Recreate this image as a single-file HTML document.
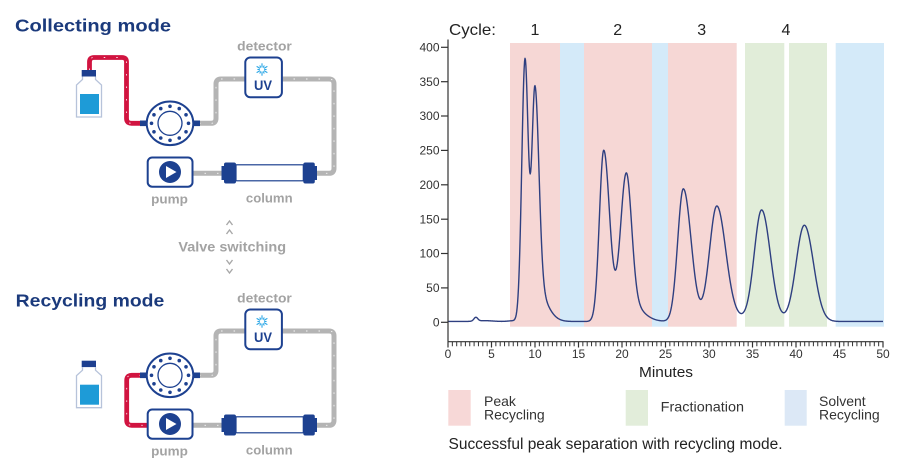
<!DOCTYPE html>
<html><head><meta charset="utf-8">
<style>
html,body{margin:0;padding:0;background:#fff;}
svg{display:block;}
text{font-family:"Liberation Sans",Arial,sans-serif;}
</style></head>
<body>
<svg width="905" height="470" viewBox="0 0 905 470" xmlns="http://www.w3.org/2000/svg">
<rect width="905" height="470" fill="#fff"/>

<!-- ================= LEFT: Collecting mode ================= -->
<text x="15" y="31.7" font-size="17.5" font-weight="bold" fill="#1b3a7c" textLength="156" lengthAdjust="spacingAndGlyphs">Collecting mode</text>

<!-- bottle top -->
<rect x="81.7" y="70" width="14.3" height="6.5" fill="#1d3f8f"/>
<path d="M82.5 76.5 V79.5 L76.5 85 V117 H101.5 V85 L95.5 79.5 V76.5" fill="#fff" stroke="#b7c3da" stroke-width="1.3"/>
<rect x="80" y="94" width="19" height="20" fill="#1e9bd7"/>
<!-- red tube top -->
<path d="M89.5 70 V62 Q89.5 57.5 94 57.5 H122 Q126.5 57.5 126.5 62 V118.3 Q126.5 123.3 131.5 123.3 H141" fill="none" stroke="#d11440" stroke-width="4.8"/>
<path d="M89.5 70 V62 Q89.5 57.5 94 57.5 H122 Q126.5 57.5 126.5 62 V118.3 Q126.5 123.3 131.5 123.3 H141" fill="none" stroke="#fff" stroke-width="0.9" stroke-dasharray="1.5 11" opacity="0.85"/>

<g id="topcommon">
 <g fill="none" stroke="#b4b4b4" stroke-width="5">
  <path d="M199 123.3 H211 Q216 123.3 216 118.3 V84 Q216 79 221 79 H246"/>
  <path d="M281 79 H329 Q334 79 334 84 V168.3 Q334 173.3 329 173.3 H316"/>
  <path d="M192 173.3 H222"/>
 </g>
 <g fill="none" stroke="#fff" stroke-width="0.9" stroke-dasharray="1.5 11" opacity="0.85">
  <path d="M199 123.3 H211 Q216 123.3 216 118.3 V84 Q216 79 221 79 H246"/>
  <path d="M281 79 H329 Q334 79 334 84 V168.3 Q334 173.3 329 173.3 H316"/>
  <path d="M192 173.3 H222"/>
 </g>
 <!-- detector -->
 <rect x="245.3" y="57.5" width="36.6" height="39.8" rx="5" fill="#fff" stroke="#1d4190" stroke-width="2"/>
 <g transform="translate(262 69.5)" stroke="#2ba7e6" stroke-width="1.1">
  <line x1="0" y1="-2.2" x2="0" y2="-6.2"/>
  <line x1="0" y1="-2.2" x2="0" y2="-4.6" transform="rotate(30)"/>
  <line x1="0" y1="-2.2" x2="0" y2="-6.2" transform="rotate(60)"/>
  <line x1="0" y1="-2.2" x2="0" y2="-4.6" transform="rotate(90)"/>
  <line x1="0" y1="-2.2" x2="0" y2="-6.2" transform="rotate(120)"/>
  <line x1="0" y1="-2.2" x2="0" y2="-4.6" transform="rotate(150)"/>
  <line x1="0" y1="-2.2" x2="0" y2="-6.2" transform="rotate(180)"/>
  <line x1="0" y1="-2.2" x2="0" y2="-4.6" transform="rotate(210)"/>
  <line x1="0" y1="-2.2" x2="0" y2="-6.2" transform="rotate(240)"/>
  <line x1="0" y1="-2.2" x2="0" y2="-4.6" transform="rotate(270)"/>
  <line x1="0" y1="-2.2" x2="0" y2="-6.2" transform="rotate(300)"/>
  <line x1="0" y1="-2.2" x2="0" y2="-4.6" transform="rotate(330)"/>
 </g>
 <text x="263" y="89.8" font-size="14" font-weight="bold" fill="#1d4190" text-anchor="middle" textLength="18" lengthAdjust="spacingAndGlyphs">UV</text>
 <text x="264.5" y="50.7" font-size="13" font-weight="bold" fill="#a3a3a3" text-anchor="middle" textLength="54.7" lengthAdjust="spacingAndGlyphs">detector</text>
 <!-- valve -->
 <rect x="140" y="120.5" width="7.5" height="5.6" fill="#1d4190"/>
 <rect x="192.5" y="120.5" width="7.5" height="5.6" fill="#1d4190"/>
 <ellipse cx="170" cy="123.3" rx="23.3" ry="21.8" fill="#fff" stroke="#1d4190" stroke-width="2"/>
 <circle cx="170" cy="123.3" r="12" fill="#fff" stroke="#1d4190" stroke-width="1.3"/>
 <g fill="#1d4190">
  <circle cx="170" cy="106.3" r="1.8"/><circle cx="179.25" cy="108.58" r="1.8"/>
  <circle cx="186.02" cy="114.8" r="1.8"/><circle cx="188.5" cy="123.3" r="1.8"/>
  <circle cx="186.02" cy="131.8" r="1.8"/><circle cx="179.25" cy="138.02" r="1.8"/>
  <circle cx="170" cy="140.3" r="1.8"/><circle cx="160.75" cy="138.02" r="1.8"/>
  <circle cx="153.98" cy="131.8" r="1.8"/><circle cx="151.5" cy="123.3" r="1.8"/>
  <circle cx="153.98" cy="114.8" r="1.8"/><circle cx="160.75" cy="108.58" r="1.8"/>
 </g>
 <!-- pump -->
 <rect x="147.7" y="157.5" width="44.8" height="29.2" rx="4.5" fill="#fff" stroke="#1d4190" stroke-width="2"/>
 <circle cx="170" cy="172" r="11" fill="#1d4190"/>
 <polygon points="166,166 166,178 176.5,172" fill="#fff"/>
 <text x="169.5" y="203.3" font-size="13" font-weight="bold" fill="#a3a3a3" text-anchor="middle" textLength="36.7" lengthAdjust="spacingAndGlyphs">pump</text>
 <!-- column -->
 <rect x="221.5" y="166" width="4" height="14" fill="#1d4190"/>
 <rect x="224" y="162.5" width="12" height="21" rx="2" fill="#1d4190"/>
 <rect x="236" y="164.8" width="67.3" height="16" fill="#fff" stroke="#1d4190" stroke-width="1.2"/>
 <rect x="303.3" y="162.5" width="11.5" height="21" rx="2" fill="#1d4190"/>
 <rect x="313.5" y="166" width="3.5" height="14" fill="#1d4190"/>
 <text x="269.3" y="202.7" font-size="13" font-weight="bold" fill="#a3a3a3" text-anchor="middle" textLength="46.7" lengthAdjust="spacingAndGlyphs">column</text>
</g>

<!-- Valve switching -->
<g fill="none" stroke="#a8a8a8" stroke-width="1.4">
 <polyline points="226.5,225 229.5,221 232.5,225"/>
 <polyline points="226.5,234 229.5,230 232.5,234"/>
 <polyline points="226.5,260 229.5,264 232.5,260"/>
 <polyline points="226.5,269 229.5,273 232.5,269"/>
</g>
<text x="232.2" y="251.7" font-size="14" font-weight="bold" fill="#a3a3a3" text-anchor="middle" textLength="107.7" lengthAdjust="spacingAndGlyphs">Valve switching</text>

<!-- ================= LEFT: Recycling mode ================= -->
<text x="15.7" y="306.7" font-size="17.5" font-weight="bold" fill="#1b3a7c" textLength="148.6" lengthAdjust="spacingAndGlyphs">Recycling mode</text>

<g transform="translate(0 290.7)">
 <rect x="81.7" y="70" width="14.3" height="6.5" fill="#1d3f8f"/>
 <path d="M82.5 76.5 V79.5 L76.5 85 V117 H101.5 V85 L95.5 79.5 V76.5" fill="#fff" stroke="#b7c3da" stroke-width="1.3"/>
 <rect x="80" y="94" width="19" height="20" fill="#1e9bd7"/>
</g>
<path d="M141 375.3 H131.7 Q126.7 375.3 126.7 380.3 V420.3 Q126.7 425.3 131.7 425.3 H148" fill="none" stroke="#d11440" stroke-width="4.8"/>
<path d="M141 375.3 H131.7 Q126.7 375.3 126.7 380.3 V420.3 Q126.7 425.3 131.7 425.3 H148" fill="none" stroke="#fff" stroke-width="0.9" stroke-dasharray="1.5 11" opacity="0.85"/>

<g transform="translate(0 252)">
 <g fill="none" stroke="#b4b4b4" stroke-width="5">
  <path d="M199 123.3 H211 Q216 123.3 216 118.3 V84 Q216 79 221 79 H246"/>
  <path d="M281 79 H329 Q334 79 334 84 V168.3 Q334 173.3 329 173.3 H316"/>
  <path d="M192 173.3 H222"/>
 </g>
 <g fill="none" stroke="#fff" stroke-width="0.9" stroke-dasharray="1.5 11" opacity="0.85">
  <path d="M199 123.3 H211 Q216 123.3 216 118.3 V84 Q216 79 221 79 H246"/>
  <path d="M281 79 H329 Q334 79 334 84 V168.3 Q334 173.3 329 173.3 H316"/>
  <path d="M192 173.3 H222"/>
 </g>
 <rect x="245.3" y="57.5" width="36.6" height="39.8" rx="5" fill="#fff" stroke="#1d4190" stroke-width="2"/>
 <g transform="translate(262 69.5)" stroke="#2ba7e6" stroke-width="1.1">
  <line x1="0" y1="-2.2" x2="0" y2="-6.2"/>
  <line x1="0" y1="-2.2" x2="0" y2="-4.6" transform="rotate(30)"/>
  <line x1="0" y1="-2.2" x2="0" y2="-6.2" transform="rotate(60)"/>
  <line x1="0" y1="-2.2" x2="0" y2="-4.6" transform="rotate(90)"/>
  <line x1="0" y1="-2.2" x2="0" y2="-6.2" transform="rotate(120)"/>
  <line x1="0" y1="-2.2" x2="0" y2="-4.6" transform="rotate(150)"/>
  <line x1="0" y1="-2.2" x2="0" y2="-6.2" transform="rotate(180)"/>
  <line x1="0" y1="-2.2" x2="0" y2="-4.6" transform="rotate(210)"/>
  <line x1="0" y1="-2.2" x2="0" y2="-6.2" transform="rotate(240)"/>
  <line x1="0" y1="-2.2" x2="0" y2="-4.6" transform="rotate(270)"/>
  <line x1="0" y1="-2.2" x2="0" y2="-6.2" transform="rotate(300)"/>
  <line x1="0" y1="-2.2" x2="0" y2="-4.6" transform="rotate(330)"/>
 </g>
 <text x="263" y="89.8" font-size="14" font-weight="bold" fill="#1d4190" text-anchor="middle" textLength="18" lengthAdjust="spacingAndGlyphs">UV</text>
 <text x="264.5" y="50.7" font-size="13" font-weight="bold" fill="#a3a3a3" text-anchor="middle" textLength="54.7" lengthAdjust="spacingAndGlyphs">detector</text>
 <rect x="140" y="120.5" width="7.5" height="5.6" fill="#1d4190"/>
 <rect x="192.5" y="120.5" width="7.5" height="5.6" fill="#1d4190"/>
 <ellipse cx="170" cy="123.3" rx="23.3" ry="21.8" fill="#fff" stroke="#1d4190" stroke-width="2"/>
 <circle cx="170" cy="123.3" r="12" fill="#fff" stroke="#1d4190" stroke-width="1.3"/>
 <g fill="#1d4190">
  <circle cx="170" cy="106.3" r="1.8"/><circle cx="179.25" cy="108.58" r="1.8"/>
  <circle cx="186.02" cy="114.8" r="1.8"/><circle cx="188.5" cy="123.3" r="1.8"/>
  <circle cx="186.02" cy="131.8" r="1.8"/><circle cx="179.25" cy="138.02" r="1.8"/>
  <circle cx="170" cy="140.3" r="1.8"/><circle cx="160.75" cy="138.02" r="1.8"/>
  <circle cx="153.98" cy="131.8" r="1.8"/><circle cx="151.5" cy="123.3" r="1.8"/>
  <circle cx="153.98" cy="114.8" r="1.8"/><circle cx="160.75" cy="108.58" r="1.8"/>
 </g>
 <rect x="147.7" y="157.5" width="44.8" height="29.2" rx="4.5" fill="#fff" stroke="#1d4190" stroke-width="2"/>
 <circle cx="170" cy="172" r="11" fill="#1d4190"/>
 <polygon points="166,166 166,178 176.5,172" fill="#fff"/>
 <text x="169.5" y="203.3" font-size="13" font-weight="bold" fill="#a3a3a3" text-anchor="middle" textLength="36.7" lengthAdjust="spacingAndGlyphs">pump</text>
 <rect x="221.5" y="166" width="4" height="14" fill="#1d4190"/>
 <rect x="224" y="162.5" width="12" height="21" rx="2" fill="#1d4190"/>
 <rect x="236" y="164.8" width="67.3" height="16" fill="#fff" stroke="#1d4190" stroke-width="1.2"/>
 <rect x="303.3" y="162.5" width="11.5" height="21" rx="2" fill="#1d4190"/>
 <rect x="313.5" y="166" width="3.5" height="14" fill="#1d4190"/>
 <text x="269.3" y="202.7" font-size="13" font-weight="bold" fill="#a3a3a3" text-anchor="middle" textLength="46.7" lengthAdjust="spacingAndGlyphs">column</text>
</g>

<!-- ================= RIGHT: Chart ================= -->
<g>
 <rect x="510" y="43" width="50" height="283.7" fill="#f6d7d5"/>
 <rect x="560" y="43" width="24" height="283.7" fill="#d4eaf9"/>
 <rect x="584" y="43" width="68" height="283.7" fill="#f6d7d5"/>
 <rect x="652" y="43" width="16" height="283.7" fill="#d4eaf9"/>
 <rect x="668" y="43" width="68.7" height="283.7" fill="#f6d7d5"/>
 <rect x="745" y="43" width="39.3" height="283.7" fill="#e1edd9"/>
 <rect x="789" y="43" width="38" height="283.7" fill="#e1edd9"/>
 <rect x="835.7" y="43" width="48.3" height="283.7" fill="#d4eaf9"/>
</g>

<g font-size="16" fill="#222">
 <text x="449" y="35" textLength="47" lengthAdjust="spacingAndGlyphs">Cycle:</text>
 <text x="535" y="35" text-anchor="middle">1</text>
 <text x="617.7" y="35" text-anchor="middle">2</text>
 <text x="701.7" y="35" text-anchor="middle">3</text>
 <text x="786" y="35" text-anchor="middle">4</text>
</g>

<path id="curve" d="" fill="none" stroke="#2e3f80" stroke-width="1.4" stroke-linejoin="round"/>

<g stroke="#333" stroke-width="1.2" fill="none">
 <line x1="448" y1="39.5" x2="448" y2="341.7"/>
 <line x1="448" y1="341.7" x2="883.5" y2="341.7"/>
 <line x1="441" y1="47.3" x2="448" y2="47.3"/>
 <line x1="441" y1="81.7" x2="448" y2="81.7"/>
 <line x1="441" y1="116" x2="448" y2="116"/>
 <line x1="441" y1="150.4" x2="448" y2="150.4"/>
 <line x1="441" y1="184.8" x2="448" y2="184.8"/>
 <line x1="441" y1="219.2" x2="448" y2="219.2"/>
 <line x1="441" y1="253.5" x2="448" y2="253.5"/>
 <line x1="441" y1="287.9" x2="448" y2="287.9"/>
 <line x1="441" y1="322.3" x2="448" y2="322.3"/>
</g>
<line x1="447.5" y1="344" x2="884" y2="344" stroke="#333" stroke-width="4.6" stroke-dasharray="1 3.35"/>
<g stroke="#333" stroke-width="1.2">
 <line x1="448" y1="341.7" x2="448" y2="347.5"/>
 <line x1="491.5" y1="341.7" x2="491.5" y2="347.5"/>
 <line x1="535" y1="341.7" x2="535" y2="347.5"/>
 <line x1="578.5" y1="341.7" x2="578.5" y2="347.5"/>
 <line x1="622" y1="341.7" x2="622" y2="347.5"/>
 <line x1="665.5" y1="341.7" x2="665.5" y2="347.5"/>
 <line x1="709" y1="341.7" x2="709" y2="347.5"/>
 <line x1="752.5" y1="341.7" x2="752.5" y2="347.5"/>
 <line x1="796" y1="341.7" x2="796" y2="347.5"/>
 <line x1="839.5" y1="341.7" x2="839.5" y2="347.5"/>
 <line x1="883" y1="341.7" x2="883" y2="347.5"/>
</g>
<g font-size="12" fill="#333" text-anchor="end">
 <text x="439.5" y="51.5">400</text>
 <text x="439.5" y="85.9">350</text>
 <text x="439.5" y="120.2">300</text>
 <text x="439.5" y="154.6">250</text>
 <text x="439.5" y="189">200</text>
 <text x="439.5" y="223.4">150</text>
 <text x="439.5" y="257.7">100</text>
 <text x="439.5" y="292.1">50</text>
 <text x="439.5" y="326.5">0</text>
</g>
<g font-size="12" fill="#333" text-anchor="middle">
 <text x="448" y="358">0</text>
 <text x="491.5" y="358">5</text>
 <text x="535" y="358">10</text>
 <text x="578.5" y="358">15</text>
 <text x="622" y="358">20</text>
 <text x="665.5" y="358">25</text>
 <text x="709" y="358">30</text>
 <text x="752.5" y="358">35</text>
 <text x="796" y="358">40</text>
 <text x="839.5" y="358">45</text>
 <text x="883" y="358">50</text>
</g>
<text x="666" y="377" font-size="15" fill="#222" text-anchor="middle" textLength="54" lengthAdjust="spacingAndGlyphs">Minutes</text>

<rect x="448.3" y="390" width="22.4" height="35.7" fill="#f7d8d7"/>
<text x="484" y="406" font-size="14" fill="#333">Peak</text>
<text x="484" y="419.3" font-size="14" fill="#333" textLength="60.7" lengthAdjust="spacingAndGlyphs">Recycling</text>
<rect x="625.7" y="390" width="22.3" height="35.7" fill="#e2edda"/>
<text x="660.7" y="411.7" font-size="14" fill="#333" textLength="83.3" lengthAdjust="spacingAndGlyphs">Fractionation</text>
<rect x="784.7" y="390" width="22" height="35.7" fill="#dce8f6"/>
<text x="819" y="406" font-size="14" fill="#333">Solvent</text>
<text x="819" y="419.3" font-size="14" fill="#333" textLength="60.7" lengthAdjust="spacingAndGlyphs">Recycling</text>

<text x="448.5" y="449" font-size="15.5" fill="#222" textLength="334" lengthAdjust="spacingAndGlyphs">Successful peak separation with recycling mode.</text>
</svg>
<script>
(function(){
 function g(x,m,s){var t=(x-m)/s;return Math.exp(-0.5*t*t);}
 var P=[[8.85,380,.37,.37,0,1],[10,340,.37,.45,.15,1.2],[17.9,249,.5,.68,0,1],[20.5,216,.68,.6,.15,1.5],[27.05,193,.65,.9,0,1],[30.9,168,.85,1.0,.1,1.8],[36.05,162,.85,1.0,0,1],[40.96,140,.95,1.05,0,1]];
 function f(x){
  var v=1.2+5.5*g(x,3.2,.22)+1.2*g(x,4.2,.9)+1*g(x,7.4,.5);
  for(var i=0;i<P.length;i++){var p=P[i],d=x-p[0];
   if(d<0) v+=p[1]*g(x,p[0],p[2]);
   else v+=p[1]*((1-p[4])*g(x,p[0],p[3])+p[4]*g(x,p[0],p[5]));}
  return v;}
 var d='';
 for(var i=0;i<=1000;i++){var x=i*0.05;var X=448+x*8.7,Y=322.3-f(x)*0.6875;d+=(i?'L':'M')+X.toFixed(2)+' '+Y.toFixed(2);}
 document.getElementById('curve').setAttribute('d',d);
})();
</script>
</body></html>
